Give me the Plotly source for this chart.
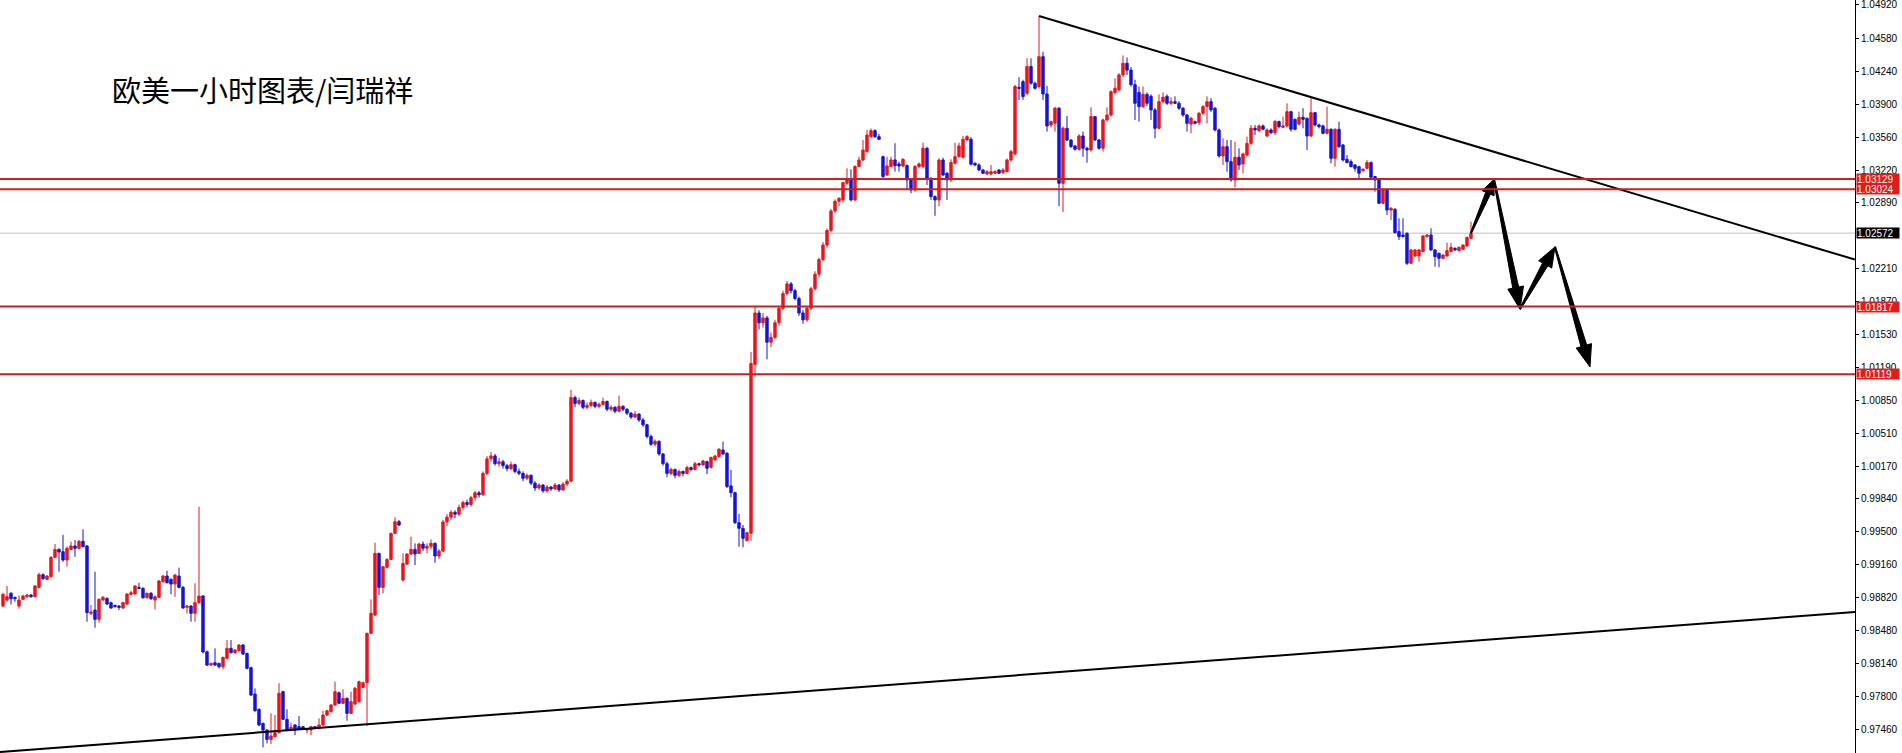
import plotly.graph_objects as go
import math

opens = [
.98735,.98797,.98866,.98824,.98735,.98804,.98831,.98848,.98831,.98927,
.99058,.99010,.99037,.99236,.99318,.99294,.99209,.99318,.99353,.99329,
.99401,.99353,.98660,.98694,.98598,.98797,.98814,.98770,.98742,.98735,
.98715,.98756,.98855,.98859,.98927,.98917,.98821,.98866,.98797,.98824,
.98986,.99044,.99010,.98962,.99044,.98927,.98722,.98735,.98660,.98770,
.98838,.98265,.98128,.98152,.98145,.98111,.98197,.98300,.98255,.98276,
.98334,.98248,.98101,.97830,.97672,.97528,.97459,.97363,.97391,.97432,
.97854,.97569,.97459,.97511,.97494,.97494,.97459,.97459,.97494,.97476,
.97511,.97614,.97648,.97717,.97843,.97734,.97785,.97631,.97727,.97751,
.97898,.97946,.98454,.98643,.99277,.98927,.99133,.99215,.99483,.99603,
.99003,.99167,.99270,.99318,.99277,.99373,.99330,.99350,.99380,.99250,
.99300,.99600,.99650,.99700,.99680,.99750,.99800,.99780,.99850,.99900,
.99880,1.00100,1.00250,1.00280,1.00200,1.00220,1.00180,1.00150,1.00190,1.00120,
1.00100,1.00050,1.00080,1.00000,.99950,.99980,.99920,.99960,.99940,.99980,
.99930,.99990,1.00020,1.00880,1.00820,1.00850,1.00780,1.00800,1.00830,1.00790,
1.00810,1.00840,1.00760,1.00780,1.00740,1.00790,1.00760,1.00720,1.00680,1.00710,
1.00650,1.00600,1.00480,1.00400,1.00430,1.00300,1.00200,1.00100,1.00140,1.00080,
1.00120,1.00100,1.00160,1.00140,1.00200,1.00187,1.00221,1.00163,1.00238,1.00272,
1.00341,1.00307,.99971,.99902,.99593,.99535,.99408,.99483,1.01220,1.01750,
1.01650,1.01700,1.01450,1.01500,1.01650,1.01800,1.01950,1.02050,1.01980,1.01900,
1.01750,1.01680,1.01800,1.02000,1.02150,1.02300,1.02450,1.02600,1.02800,1.02900,
1.02914,1.03085,1.03119,1.02914,1.03257,1.03325,1.03411,1.03565,1.03627,1.03565,
1.03359,1.03171,1.03257,1.03325,1.03284,1.03263,1.03267,1.03119,1.03016,1.03257,
1.03257,1.03445,1.03136,1.02948,1.02914,1.03325,1.03188,1.03119,1.03291,1.03359,
1.03353,1.03531,1.03538,1.03291,1.03274,1.03222,1.03181,1.03181,1.03188,1.03222,
1.03195,1.03205,1.03325,1.03387,1.04073,1.04131,1.04011,1.04286,1.04114,1.04080,
1.04388,1.04004,1.03685,1.03703,1.03857,1.03085,1.03651,1.03531,1.03469,1.03435,
1.03572,1.03445,1.03428,1.03771,1.03531,1.03445,1.03737,1.03788,1.04018,1.04045,
1.04200,1.04320,1.04250,1.04100,1.04020,1.03874,1.04000,1.03980,1.03840,1.03651,
1.03925,1.03980,1.03908,1.03925,1.03908,1.03857,1.03788,1.03695,1.03720,1.03709,
1.03805,1.03874,1.03925,1.03857,1.03634,1.03366,1.03462,1.03308,1.03119,1.03353,
1.03284,1.03376,1.03496,1.03651,1.03627,1.03675,1.03572,1.03634,1.03606,1.03720,
1.03661,1.03675,1.03822,1.03743,1.03695,1.03764,1.03754,1.03572,1.03812,1.03685,
1.03675,1.03599,1.03641,1.03342,1.03641,1.03479,1.03332,1.03308,1.03274,1.03256,
1.03215,1.03239,1.03298,1.03154,1.03119,1.02879,1.03023,1.02810,1.02817,1.02588,
1.02553,1.02570,1.02262,1.02337,1.02337,1.02382,1.02536,1.02553,1.02399,1.02365,
1.02313,1.02337,1.02382,1.02416,1.02392,1.02406,1.02440,1.02519]

highs = [
.98872,.98941,.98879,.98831,.98845,.98852,.98859,.98859,.98951,.99078,
.99071,.99054,.99250,.99373,.99329,.99469,.99346,.99397,.99414,.99414,
.99524,.99363,.98745,.99089,.98814,.98838,.98824,.98780,.98749,.98745,
.98780,.98866,.98893,.98951,.98975,.98927,.98872,.98879,.98845,.99003,
.99054,.99099,.99020,.99065,.99130,.98941,.98745,.98745,.98969,.99757,
.98848,.98276,.98152,.98300,.98152,.98214,.98385,.98385,.98293,.98344,
.98344,.98255,.98111,.97888,.97682,.97535,.97466,.97631,.97614,.97940,
.97864,.97672,.97535,.97521,.97603,.97500,.97473,.97500,.97500,.97579,
.97658,.97665,.97727,.97957,.97854,.97878,.97795,.97854,.97905,.97967,
.97957,.98461,.98804,.99387,.99284,.99147,.99226,.99490,.99648,.99620,
.99277,.99277,.99449,.99380,.99387,.99400,.99380,.99420,.99390,.99320,
.99620,.99680,.99720,.99720,.99780,.99820,.99830,.99870,.99920,.99920,
1.00120,1.00280,1.00320,1.00300,1.00260,1.00240,1.00200,1.00220,1.00200,1.00150,
1.00120,1.00100,1.00090,1.00020,1.00000,.99990,.99980,.99970,1.00000,.99990,
1.00010,1.00040,1.00960,1.00900,1.00880,1.00860,1.00830,1.00860,1.00840,1.00830,
1.00880,1.00850,1.00800,1.00790,1.00900,1.00800,1.00770,1.00730,1.00740,1.00720,
1.00670,1.00610,1.00500,1.00450,1.00440,1.00310,1.00220,1.00160,1.00150,1.00140,
1.00130,1.00180,1.00170,1.00220,1.00210,1.00240,1.00230,1.00270,1.00290,1.00360,
1.00427,1.00320,1.00135,.99910,.99682,.99569,.99500,1.01350,1.01820,1.01780,
1.01750,1.01720,1.01550,1.01680,1.01820,1.01980,1.02080,1.02070,1.02000,1.01920,
1.01780,1.01820,1.02020,1.02180,1.02320,1.02480,1.02620,1.02820,1.02920,1.02940,
1.03100,1.03239,1.03229,1.03270,1.03359,1.03531,1.03634,1.03648,1.03640,1.03593,
1.03370,1.03359,1.03359,1.03497,1.03308,1.03342,1.03280,1.03130,1.03274,1.03300,
1.03503,1.03460,1.03150,1.02960,1.03342,1.03349,1.03200,1.03332,1.03503,1.03503,
1.03572,1.03580,1.03560,1.03300,1.03290,1.03230,1.03220,1.03274,1.03220,1.03230,
1.03240,1.03340,1.03430,1.04100,1.04176,1.04150,1.04371,1.04371,1.04130,1.04807,
1.04440,1.04087,1.03730,1.03874,1.03870,1.03670,1.03778,1.03540,1.03480,1.03590,
1.03617,1.03460,1.03867,1.03778,1.03540,1.03750,1.03867,1.04040,1.04165,1.04220,
1.04400,1.04380,1.04280,1.04150,1.04080,1.04080,1.04020,1.04000,1.03860,1.04000,
1.04020,1.04000,1.03970,1.03980,1.03930,1.03870,1.03800,1.03770,1.03730,1.03820,
1.03890,1.03980,1.03960,1.03870,1.03650,1.03548,1.03531,1.03531,1.03514,1.03445,
1.03400,1.03565,1.03685,1.03685,1.03690,1.03690,1.03650,1.03650,1.03737,1.03730,
1.03771,1.03908,1.03830,1.03750,1.03822,1.03857,1.03760,1.03960,1.03820,1.03700,
1.03690,1.03874,1.03650,1.03650,1.03719,1.03490,1.03376,1.03330,1.03280,1.03265,
1.03240,1.03325,1.03310,1.03160,1.03125,1.03030,1.03030,1.02840,1.02830,1.02725,
1.02725,1.02580,1.02410,1.02410,1.02410,1.02550,1.02560,1.02622,1.02410,1.02370,
1.02355,1.02474,1.02470,1.02425,1.02435,1.02455,1.02535,1.02690]

lows = [
.98722,.98780,.98752,.98780,.98708,.98797,.98821,.98821,.98824,.98917,
.99003,.99003,.99030,.99226,.99089,.99191,.99140,.99311,.99243,.99318,
.99339,.98574,.98643,.98512,.98564,.98790,.98745,.98708,.98722,.98694,
.98708,.98749,.98848,.98852,.98907,.98811,.98814,.98797,.98701,.98818,
.98975,.98969,.98855,.98831,.98917,.98708,.98660,.98574,.98574,.98756,
.98248,.98118,.98118,.98118,.98094,.98084,.98186,.98248,.98241,.98265,
.98231,.98084,.97809,.97648,.97500,.97281,.97322,.97315,.97384,.97425,
.97562,.97449,.97449,.97408,.97459,.97459,.97425,.97408,.97466,.97466,
.97500,.97603,.97638,.97706,.97727,.97727,.97555,.97624,.97717,.97741,
.97888,.97500,.98447,.98632,.98848,.98866,.99123,.99209,.99476,.99558,
.98986,.99157,.99260,.99157,.99270,.99300,.99280,.99320,.99180,.99220,
.99290,.99560,.99620,.99640,.99660,.99720,.99750,.99760,.99820,.99850,
.99870,1.00080,1.00220,1.00180,1.00170,1.00150,1.00120,1.00130,1.00100,1.00080,
1.00020,1.00030,.99980,.99920,.99930,.99900,.99900,.99920,.99930,.99910,
.99920,.99970,1.00010,1.00780,1.00800,1.00760,1.00760,1.00780,1.00770,1.00770,
1.00800,1.00740,1.00740,1.00720,1.00730,1.00740,1.00700,1.00660,1.00670,1.00630,
1.00580,1.00460,1.00380,1.00380,1.00280,1.00180,1.00060,1.00080,1.00050,1.00060,
1.00070,1.00090,1.00120,1.00130,1.00170,1.00180,1.00094,1.00150,1.00230,1.00260,
1.00290,.99950,.99854,.99580,.99346,.99339,.99400,.99408,1.01096,1.01580,
1.01600,1.01274,1.01400,1.01480,1.01620,1.01780,1.01930,1.01950,1.01880,1.01720,
1.01640,1.01660,1.01780,1.01980,1.02120,1.02280,1.02420,1.02580,1.02780,1.02850,
1.02890,1.03070,1.02900,1.02900,1.03250,1.03310,1.03400,1.03550,1.03550,1.03530,
1.03140,1.03160,1.03250,1.03205,1.03205,1.03250,1.03016,1.02982,1.02999,1.03240,
1.03240,1.03068,1.02914,1.02750,1.02850,1.03160,1.02914,1.03100,1.03280,1.03350,
1.03340,1.03520,1.03270,1.03260,1.03210,1.03180,1.03170,1.03170,1.03180,1.03180,
1.03180,1.03200,1.03310,1.03370,1.03943,1.03943,1.03990,1.04100,1.04050,1.04060,
1.03943,1.03617,1.03660,1.03617,1.02850,1.02790,1.03520,1.03450,1.03420,1.03420,
1.03359,1.03298,1.03410,1.03520,1.03430,1.03411,1.03720,1.03770,1.04000,1.04030,
1.04180,1.04200,1.04080,1.03737,1.03720,1.03860,1.03880,1.03737,1.03548,1.03640,
1.03910,1.03890,1.03890,1.03900,1.03840,1.03770,1.03617,1.03600,1.03690,1.03685,
1.03790,1.03702,1.03820,1.03620,1.03350,1.03274,1.03205,1.03102,1.03044,1.03222,
1.03188,1.03360,1.03480,1.03582,1.03610,1.03630,1.03560,1.03590,1.03582,1.03650,
1.03650,1.03660,1.03617,1.03630,1.03680,1.03651,1.03428,1.03560,1.03670,1.03650,
1.03590,1.03590,1.03290,1.03256,1.03450,1.03310,1.03290,1.03250,1.03205,1.03136,
1.03200,1.03230,1.03140,1.02999,1.02870,1.02870,1.02759,1.02708,1.02570,1.02502,
1.02530,1.02245,1.02255,1.02330,1.02279,1.02375,1.02530,1.02390,1.02228,1.02221,
1.02305,1.02330,1.02375,1.02390,1.02385,1.02400,1.02430,1.02510]

closes = [
.98855,.98831,.98811,.98811,.98797,.98838,.98848,.98831,.98941,.99058,
.99017,.99044,.99236,.99318,.99291,.99209,.99329,.99353,.99329,.99401,
.99346,.98667,.98673,.98598,.98804,.98824,.98756,.98715,.98728,.98722,
.98770,.98859,.98872,.98941,.98917,.98821,.98866,.98811,.98831,.98993,
.99044,.98975,.98962,.99054,.98927,.98715,.98735,.98660,.98770,.98838,
.98262,.98128,.98145,.98128,.98111,.98207,.98300,.98255,.98283,.98334,
.98241,.98094,.97819,.97658,.97511,.97459,.97363,.97398,.97432,.97837,
.97569,.97459,.97487,.97459,.97466,.97466,.97466,.97494,.97476,.97511,
.97614,.97658,.97717,.97854,.97734,.97785,.97631,.97751,.97888,.97957,
.97946,.98454,.98660,.99277,.98927,.99140,.99215,.99483,.99603,.99569,
.99174,.99270,.99318,.99270,.99373,.99330,.99350,.99380,.99250,.99300,
.99600,.99650,.99700,.99680,.99750,.99800,.99780,.99850,.99900,.99880,
1.00100,1.00250,1.00280,1.00200,1.00220,1.00180,1.00150,1.00190,1.00120,1.00100,
1.00050,1.00080,1.00000,.99950,.99980,.99920,.99960,.99940,.99980,.99930,
.99990,1.00020,1.00880,1.00820,1.00850,1.00780,1.00800,1.00830,1.00790,1.00810,
1.00840,1.00760,1.00780,1.00740,1.00790,1.00760,1.00720,1.00680,1.00710,1.00650,
1.00600,1.00480,1.00400,1.00430,1.00300,1.00200,1.00100,1.00140,1.00080,1.00120,
1.00100,1.00160,1.00140,1.00200,1.00190,1.00228,1.00152,1.00265,1.00279,1.00348,
1.00300,.99964,.99902,.99593,.99535,.99432,.99490,1.01230,1.01750,1.01650,
1.01700,1.01450,1.01500,1.01650,1.01800,1.01950,1.02050,1.01980,1.01900,1.01750,
1.01680,1.01800,1.02000,1.02150,1.02300,1.02450,1.02600,1.02800,1.02900,1.02931,
1.03092,1.03119,1.02914,1.03257,1.03325,1.03428,1.03582,1.03627,1.03565,1.03538,
1.03154,1.03263,1.03325,1.03267,1.03263,1.03332,1.03119,1.03016,1.03257,1.03284,
1.03445,1.03136,1.02948,1.02914,1.03325,1.03171,1.03119,1.03298,1.03359,1.03469,
1.03538,1.03565,1.03281,1.03274,1.03222,1.03188,1.03205,1.03205,1.03205,1.03188,
1.03222,1.03325,1.03411,1.04080,1.04062,1.03977,1.04286,1.04114,1.04062,1.04388,
1.04004,1.03675,1.03720,1.03857,1.03085,1.03651,1.03531,1.03462,1.03435,1.03572,
1.03445,1.03428,1.03771,1.03531,1.03445,1.03737,1.03788,1.04028,1.04062,1.04200,
1.04320,1.04250,1.04100,1.03908,1.03874,1.04000,1.03908,1.03840,1.03651,1.03925,
1.03970,1.03908,1.03925,1.03908,1.03857,1.03788,1.03702,1.03754,1.03702,1.03805,
1.03874,1.03925,1.03840,1.03634,1.03366,1.03462,1.03308,1.03119,1.03353,1.03274,
1.03387,1.03496,1.03651,1.03634,1.03675,1.03641,1.03634,1.03606,1.03720,1.03668,
1.03675,1.03822,1.03641,1.03641,1.03764,1.03743,1.03572,1.03812,1.03685,1.03668,
1.03599,1.03641,1.03342,1.03641,1.03462,1.03325,1.03298,1.03256,1.03239,1.03188,
1.03229,1.03298,1.03147,1.03119,1.02879,1.03023,1.02810,1.02828,1.02577,1.02536,
1.02536,1.02262,1.02399,1.02399,1.02399,1.02543,1.02553,1.02399,1.02330,1.02313,
1.02347,1.02392,1.02426,1.02399,1.02426,1.02450,1.02529,1.02570]

# horizontal levels
red_levels = [1.03129, 1.03024, 1.01817, 1.01119]
last_price = 1.02572

# price axis ticks
tick_values = [1.04920, 1.04580, 1.04240, 1.03900, 1.03560, 1.03220, 1.02890,
               1.02210, 1.01870, 1.01530, 1.01190, 1.00850, 1.00510, 1.00170,
               0.99840, 0.99500, 0.99160, 0.98820, 0.98480, 0.98140, 0.97800, 0.97460]
tick_text = ["%.5f" % v for v in tick_values]

# trend lines (bar index, price)
down_trend_x = [259, 463]
down_trend_y = [1.04807, 1.02300]
up_trend_x = [-0.75, 463]
up_trend_y = [0.97233, 0.98674]

# projected path drawn with arrows (bar index, price)
path_x = [367, 372.75, 379.25, 388, 396.75]
path_y = [1.02574, 1.03125, 1.01790, 1.02430, 1.01195]

title_text = "欧美一小时图表/闫瑞祥"

RED = "#E8161C"
BLUE = "#1414D6"
LINE_RED = "#CC1F1F"

W, H = 1902, 753
ML, MR, MT, MB = 0, 47, 0, 0
X_RANGE = [-0.75, 463]
Y_RANGE = [0.97223, 1.04971]

fig = go.Figure()
idx = list(range(len(closes)))
fig.add_trace(go.Candlestick(
    x=idx, open=opens, high=highs, low=lows, close=closes,
    increasing=dict(line=dict(color=RED, width=1), fillcolor=RED),
    decreasing=dict(line=dict(color=BLUE, width=1), fillcolor=BLUE),
    whiskerwidth=0, showlegend=False, hoverinfo="skip"))

fig.add_trace(go.Scatter(x=down_trend_x, y=down_trend_y, mode="lines",
                         line=dict(color="black", width=2), showlegend=False, hoverinfo="skip"))
fig.add_trace(go.Scatter(x=up_trend_x, y=up_trend_y, mode="lines",
                         line=dict(color="black", width=2), showlegend=False, hoverinfo="skip"))

# arrows as filled polygons, computed in pixel space then mapped back to data
pw = W - ML - MR
ph = H - MT - MB
sx = pw / (X_RANGE[1] - X_RANGE[0])
sy = ph / (Y_RANGE[1] - Y_RANGE[0])

def arrow_poly(x0, y0, x1, y1, head_len, head_half, shaft_half, tail_half=0.6):
    px0, py0 = x0 * sx, y0 * sy
    px1, py1 = x1 * sx, y1 * sy
    dx, dy = px1 - px0, py1 - py0
    L = math.hypot(dx, dy)
    ux, uy = dx / L, dy / L
    nx, ny = -uy, ux
    bx, by = px1 - ux * head_len, py1 - uy * head_len
    pts = [
        (px0 + nx * tail_half, py0 + ny * tail_half),
        (bx + nx * shaft_half, by + ny * shaft_half),
        (bx + nx * head_half, by + ny * head_half),
        (px1, py1),
        (bx - nx * head_half, by - ny * head_half),
        (bx - nx * shaft_half, by - ny * shaft_half),
        (px0 - nx * tail_half, py0 - ny * tail_half),
        (px0 + nx * tail_half, py0 + ny * tail_half),
    ]
    return [p[0] / sx for p in pts], [p[1] / sy for p in pts]

head_sizes = [(15, 6.5, 2.5), (22, 8, 3), (20, 7.5, 3), (22, 8, 3)]
for k in range(len(path_x) - 1):
    hl, hh, sh = head_sizes[k]
    ax_, ay_ = arrow_poly(path_x[k], path_y[k], path_x[k + 1], path_y[k + 1], hl, hh, sh)
    fig.add_trace(go.Scatter(x=ax_, y=ay_, mode="lines", fill="toself",
                             fillcolor="black", line=dict(color="black", width=1),
                             showlegend=False, hoverinfo="skip"))

shapes = []
shapes.append(dict(type="line", xref="paper", x0=0, x1=1, yref="y", y0=last_price, y1=last_price,
                   line=dict(color="#C0C0C0", width=1), layer="below"))
for lv in red_levels:
    shapes.append(dict(type="line", xref="paper", x0=0, x1=1, yref="y", y0=lv, y1=lv,
                       line=dict(color=LINE_RED, width=2)))

annotations = []
for lv in red_levels:
    annotations.append(dict(xref="paper", x=1, xanchor="left", xshift=1, yref="y", y=lv,
                            text="%.5f" % lv, showarrow=False, bgcolor="#E21B1B",
                            font=dict(color="white", size=10, family="Liberation Sans"),
                            borderpad=0, width=42, height=10, align="left"))
annotations.append(dict(xref="paper", x=1, xanchor="left", xshift=1, yref="y", y=last_price,
                        text="%.5f" % last_price, showarrow=False, bgcolor="black",
                        font=dict(color="white", size=10, family="Liberation Sans"),
                        borderpad=0, width=42, height=10, align="left"))
annotations.append(dict(xref="paper", x=110 / pw, xanchor="left", yref="paper", y=1 - 89 / ph,
                        yanchor="middle", text=title_text, showarrow=False,
                        font=dict(color="black", size=29, family="Noto Sans CJK SC")))

fig.update_layout(
    template="none",
    width=W, height=H,
    margin=dict(l=ML, r=MR, t=MT, b=MB, pad=0),
    paper_bgcolor="white", plot_bgcolor="white",
    showlegend=False,
    shapes=shapes, annotations=annotations,
    boxgap=0.15,
    xaxis=dict(range=X_RANGE, visible=False, rangeslider=dict(visible=False),
               showgrid=False, zeroline=False, automargin=False),
    yaxis=dict(range=Y_RANGE, side="right", showgrid=False, zeroline=False,
               showline=True, linecolor="black", linewidth=1,
               ticks="outside", ticklen=3, tickcolor="black",
               tickvals=tick_values, ticktext=tick_text,
               tickfont=dict(size=10, family="Liberation Sans", color="black"),
               ticklabeloverflow="allow", automargin=False),
)

fig.write_html("out.html", config={"displayModeBar": False},
               post_script="document.body.style.margin='0';document.body.style.overflow='hidden';")
